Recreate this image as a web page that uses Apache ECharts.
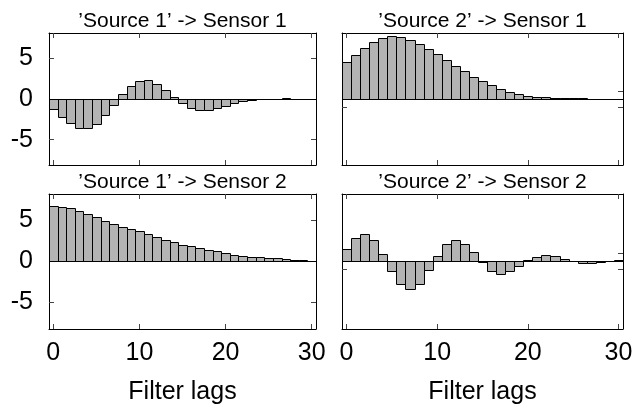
<!DOCTYPE html>
<html>
<head>
<meta charset="utf-8">
<script src="https://cdn.jsdelivr.net/npm/echarts@6/dist/echarts.min.js"></script>
<style>
  html, body { margin: 0; padding: 0; background: #fff; }
  #chart { width: 636px; height: 408px; }
</style>
</head>
<body>
<div id="chart"></div>
<script>
// Filter lags shared by every panel
const lags = ['0','1','2','3','4','5','6','7','8','9','10','11','12','13','14','15',
              '16','17','18','19','20','21','22','23','24','25','26','27','28','29','30'];

// Estimated filter coefficients, one array per source/sensor pair
const source1ToSensor1 = [-1.2, -2.15, -3.0, -3.55, -3.6, -3.05, -2.0, -0.73, 0.6, 1.63,
                          2.2, 2.32, 1.83, 1.14, 0.28, -0.49, -1.06, -1.3, -1.3, -1.1,
                          -0.81, -0.53, -0.28, -0.12, -0.04, 0.04, 0.06, 0.07, 0.04, 0.01, 0.0];
const source2ToSensor1 = [4.5, 5.4, 6.25, 6.95, 7.45, 7.7, 7.6, 7.28, 6.8, 6.1,
                          5.5, 4.76, 4.07, 3.41, 2.76, 2.15, 1.67, 1.26, 0.89, 0.61,
                          0.41, 0.28, 0.2, 0.16, 0.12, 0.1, 0.08, 0.06, 0.05, 0.03, 0.01];
const source1ToSensor2 = [6.7, 6.62, 6.5, 6.16, 5.8, 5.35, 4.94, 4.49, 4.2, 3.92,
                          3.63, 3.35, 2.94, 2.61, 2.29, 2.0, 1.84, 1.63, 1.39, 1.18,
                          0.98, 0.78, 0.65, 0.53, 0.45, 0.37, 0.33, 0.24, 0.16, 0.08, 0.04];
const source2ToSensor2 = [1.47, 2.86, 3.35, 2.57, 0.86, -1.18, -2.82, -3.43, -2.82, -1.14,
                          0.65, 2.04, 2.57, 2.12, 1.06, -0.16, -1.22, -1.63, -1.22, -0.65,
                          0.16, 0.49, 0.73, 0.57, 0.29, 0.0, -0.24, -0.29, -0.12, 0.0, 0.08];

const panelTitles = ['\u2019Source 1\u2019 -> Sensor 1', '\u2019Source 2\u2019 -> Sensor 1',
                     '\u2019Source 1\u2019 -> Sensor 2', '\u2019Source 2\u2019 -> Sensor 2'];
const xTickLags = [0, 10, 20, 30];
const yTickValues = [-5, 0, 5];
const innerTickValues = [-1, 1];
const xAxisTitle = 'Filter lags';

const FONT = 'Liberation Sans, Arial, Helvetica, sans-serif';

// Panel placement and vertical range
const panels = [
  { data: source1ToSensor1, title: panelTitles[0], left: 49,  top: 33,  width: 267, height: 132, yMin: -8.1, yMax: 8.1, leftCol: true,  bottom: false },
  { data: source2ToSensor1, title: panelTitles[1], left: 342, top: 33,  width: 281, height: 132, yMin: -8.1, yMax: 8.1, leftCol: false, bottom: false },
  { data: source1ToSensor2, title: panelTitles[2], left: 49,  top: 194, width: 267, height: 135, yMin: -8.3, yMax: 8.2, leftCol: true,  bottom: true },
  { data: source2ToSensor2, title: panelTitles[3], left: 342, top: 194, width: 281, height: 135, yMin: -8.3, yMax: 8.2, leftCol: false, bottom: true }
];

const isLagTick = (idx) => xTickLags.indexOf(Number(lags[idx])) !== -1;
const lineStyle = { color: '#000', width: 1 };
const tickStyle = { color: '#444', width: 1 };
const crisp = (v) => Math.round(v) + 0.5;

// One bar per lag, spanning the full category band
function renderLagBar(params, api) {
  const lag = api.value(0);
  const val = api.value(1);
  const base = api.coord([lag, 0]);
  const tip = api.coord([lag, val]);
  const band = api.size([1, 0])[0];
  const x0 = crisp(base[0] - band / 2);
  const x1 = crisp(base[0] + band / 2);
  const y0 = crisp(Math.min(base[1], tip[1]));
  const y1 = crisp(Math.max(base[1], tip[1]));
  return {
    type: 'rect',
    shape: { x: x0, y: y0, width: x1 - x0, height: y1 - y0 },
    style: { fill: '#b3b3b3', stroke: '#000', lineWidth: 1 }
  };
}

const grid = [], xAxis = [], yAxis = [], series = [], graphic = [];

panels.forEach((p, i) => {
  grid.push({ left: p.left, top: p.top, width: p.width, height: p.height, containLabel: false });

  const yTicks = p.leftCol ? yTickValues : innerTickValues;

  // bottom and top category axes (top one only mirrors ticks)
  ['bottom', 'top'].forEach((pos) => {
    const showLabel = pos === 'bottom' && p.bottom;
    xAxis.push({
      gridIndex: i, type: 'category', data: lags, position: pos, boundaryGap: true,
      axisLine: { show: true, onZero: false, lineStyle },
      axisTick: { show: true, inside: true, length: 5, alignWithLabel: true, interval: isLagTick, lineStyle: tickStyle },
      axisLabel: { show: showLabel, interval: isLagTick, fontSize: 25, fontFamily: FONT, color: '#000', margin: 12 },
      splitLine: { show: false },
      name: showLabel ? xAxisTitle : '',
      nameLocation: 'middle', nameGap: 51,
      nameTextStyle: { fontSize: 25, fontFamily: FONT, color: '#000' }
    });
  });

  // left and right value axes (right one only mirrors ticks)
  ['left', 'right'].forEach((pos) => {
    yAxis.push({
      gridIndex: i, type: 'value', min: p.yMin, max: p.yMax, position: pos,
      axisLine: { show: true, onZero: false, lineStyle },
      axisTick: { show: true, inside: true, length: 5, customValues: yTicks, lineStyle: tickStyle },
      axisLabel: { show: pos === 'left' && p.leftCol, customValues: yTickValues, fontSize: 25, fontFamily: FONT, color: '#000', margin: 16 },
      splitLine: { show: false }
    });
  });

  series.push({
    type: 'custom', xAxisIndex: i * 2, yAxisIndex: i * 2,
    renderItem: renderLagBar,
    encode: { x: 0, y: 1 },
    data: p.data.map((v, k) => [k, v]),
    markLine: {
      silent: true, symbol: ['none', 'none'], label: { show: false },
      lineStyle: { color: '#000', width: 1, type: 'solid' },
      data: [{ yAxis: 0 }]
    }
  });

  graphic.push({
    type: 'text',
    x: p.left + p.width / 2,
    y: p.top - 12,
    style: {
      text: p.title, fill: '#000', font: '21px ' + FONT,
      textAlign: 'center', textVerticalAlign: 'middle'
    }
  });
});

const chart = echarts.init(document.getElementById('chart'), null, { renderer: 'canvas' });
chart.setOption({
  animation: false,
  backgroundColor: '#fff',
  grid, xAxis, yAxis, series, graphic
});
</script>
</body>
</html>
